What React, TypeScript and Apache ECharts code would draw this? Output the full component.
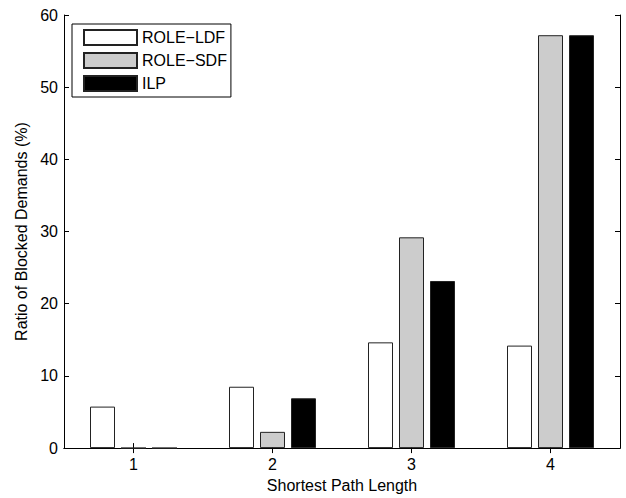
import React, { useEffect, useRef } from "react";
import * as echarts from "echarts";

const categories = ["1", "2", "3", "4"];
const seriesNames = ["ROLE\u2212LDF", "ROLE\u2212SDF", "ILP"];
const roleLdf = [5.75, 8.5, 14.65, 14.2];
const roleSdf = [0, 2.25, 29.2, 57.2];
const ilp = [0, 6.9, 23.15, 57.2];
const yTicks = [0, 10, 20, 30, 40, 50, 60];

const FONT = "'Liberation Sans', Arial, Helvetica, sans-serif";

export default function App() {
  const ref = useRef<HTMLDivElement>(null);
  useEffect(() => {
    if (!ref.current) return;
    const chart = echarts.init(ref.current, null, { renderer: "svg" });
    const axisLine = { show: true, lineStyle: { color: "#000", width: 1 } };
    const fills = ["#ffffff", "#cccccc", "#000000"];
    const data = [roleLdf, roleSdf, ilp];
    chart.setOption({
      animation: false,
      backgroundColor: "#fff",
      textStyle: { fontFamily: FONT },
      grid: { left: 64, top: 15, right: 6, bottom: 45, containLabel: false },
      legend: {
        orient: "vertical",
        left: 72,
        top: 24,
        padding: [5, 4, 5, 11],
        itemWidth: 53,
        itemHeight: 15,
        itemGap: 6,
        icon: "rect",
        borderColor: "#000",
        borderWidth: 1,
        backgroundColor: "#fff",
        textStyle: { fontSize: 16, color: "#000", fontFamily: FONT },
        data: seriesNames,
      },
      xAxis: [
        {
          type: "category",
          data: categories,
          position: "bottom",
          axisLine,
          axisTick: { show: true, inside: true, alignWithLabel: true, length: 5, lineStyle: { color: "#000" } },
          axisLabel: { fontSize: 16, color: "#000", margin: 8, fontFamily: FONT },
          name: "Shortest Path Length",
          nameLocation: "middle",
          nameGap: 27,
          nameTextStyle: { fontSize: 16, color: "#000", fontFamily: FONT },
        },
        {
          type: "category",
          data: categories,
          position: "top",
          axisLine,
          axisTick: { show: true, inside: true, alignWithLabel: true, length: 5, lineStyle: { color: "#000" } },
          axisLabel: { show: false },
        },
      ],
      yAxis: [
        {
          type: "value",
          min: yTicks[0],
          max: yTicks[yTicks.length - 1],
          interval: 10,
          position: "left",
          axisLine,
          axisTick: { show: true, inside: true, length: 5, lineStyle: { color: "#000" } },
          axisLabel: { fontSize: 16, color: "#000", margin: 6, fontFamily: FONT },
          splitLine: { show: false },
          name: "Ratio of Blocked Demands (%)",
          nameLocation: "middle",
          nameGap: 33,
          nameTextStyle: { fontSize: 16, color: "#000", fontFamily: FONT },
        },
        {
          type: "value",
          min: yTicks[0],
          max: yTicks[yTicks.length - 1],
          interval: 10,
          position: "right",
          axisLine,
          axisTick: { show: true, inside: true, length: 5, lineStyle: { color: "#000" } },
          axisLabel: { show: false },
          splitLine: { show: false },
        },
      ],
      series: seriesNames.map((name, i) => ({
        name,
        type: "bar",
        xAxisIndex: 0,
        yAxisIndex: 0,
        data: data[i],
        barWidth: 25,
        barGap: "24%",
        itemStyle: { color: fills[i], borderColor: "#222", borderWidth: 1 },
      })),
    });
    return () => chart.dispose();
  }, []);
  return <div ref={ref} style={{ width: 626, height: 498, position: "absolute", left: 0, top: 0 }} />;
}
